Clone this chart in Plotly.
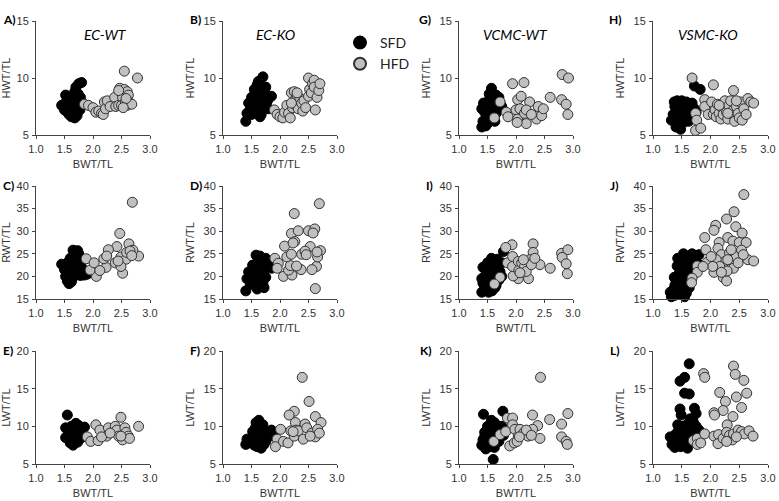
import plotly.graph_objects as go

# ---------------- data (BWT/TL, organ/TL) ----------------
A_SFD = [(1.45,7.6),(1.5,7.2),(1.52,8.5),(1.55,8.2),(1.55,7.0),(1.57,7.8),(1.58,6.8),(1.6,7.5),(1.6,8.0),(1.62,6.6),
         (1.63,7.2),(1.65,8.4),(1.65,6.9),(1.67,7.6),(1.68,8.8),(1.7,7.3),(1.7,9.2),(1.72,8.0),(1.72,6.7),(1.75,7.7),
         (1.75,9.5),(1.78,8.3),(1.8,9.6),(1.62,7.9),(1.58,7.4),(1.66,7.1),(1.74,8.6),(1.53,7.9),(1.68,6.5),(1.77,7.2)]
A_HFD = [(1.85,7.7),(1.92,7.6),(2.0,7.4),(2.05,7.0),(2.1,7.1),(2.15,6.9),(2.18,6.8),(2.2,7.9),(2.22,7.3),(2.25,8.0),
         (2.3,7.5),(2.38,8.3),(2.4,7.5),(2.45,7.6),(2.47,9.1),(2.5,8.7),(2.5,7.6),(2.52,8.3),(2.55,9.0),(2.55,10.6),
         (2.57,7.9),(2.6,8.8),(2.6,7.6),(2.62,8.5),(2.65,7.8),(2.68,7.7),(2.78,10.0),(2.45,8.9),(2.58,8.2),(2.53,7.4)]
B_SFD = [(1.4,6.2),(1.42,6.9),(1.45,7.8),(1.48,7.3),(1.5,8.3),(1.5,6.8),(1.52,7.6),(1.55,9.0),(1.55,8.0),(1.57,7.1),
         (1.6,8.6),(1.6,9.4),(1.62,7.5),(1.63,8.2),(1.65,6.6),(1.65,7.9),(1.68,8.8),(1.7,10.1),(1.7,7.2),(1.72,8.4),
         (1.75,9.2),(1.75,7.6),(1.78,8.0),(1.8,7.3),(1.85,8.4),(1.58,8.9),(1.67,6.8),(1.53,7.0),(1.62,9.7),(1.73,8.9)]
B_HFD = [(1.9,7.2),(1.95,6.8),(2.0,6.6),(2.05,6.5),(2.08,7.0),(2.12,7.6),(2.15,6.9),(2.18,6.5),(2.2,8.7),(2.22,7.4),
         (2.25,8.0),(2.25,8.8),(2.28,7.6),(2.3,8.5),(2.32,7.3),(2.35,8.2),(2.38,7.8),(2.4,7.1),(2.42,8.0),(2.45,7.4),
         (2.5,8.4),(2.5,10.0),(2.52,9.0),(2.55,8.7),(2.57,9.5),(2.6,9.8),(2.6,9.2),(2.62,7.2),(2.65,8.3),(2.68,8.9),
         (2.7,9.5),(2.2,7.8),(2.3,8.7)]
G_SFD = [(1.4,5.7),(1.42,6.2),(1.45,7.0),(1.45,7.6),(1.48,6.6),(1.5,7.9),(1.5,6.0),(1.52,7.3),(1.55,8.3),(1.55,6.8),
         (1.57,9.1),(1.58,7.6),(1.6,6.4),(1.6,8.0),(1.62,7.1),(1.65,8.5),(1.65,6.9),(1.68,7.4),(1.7,8.3),(1.72,7.8),
         (1.75,7.5),(1.4,7.3),(1.47,5.8),(1.53,8.6),(1.63,6.2),(1.58,7.0),(1.43,7.8),(1.67,8.0)]
G_HFD = [(1.94,9.5),(2.14,9.6),(2.81,10.3),(2.92,10.0),(2.6,8.3),(2.8,8.1),(2.88,7.7),(2.91,6.8),(1.72,7.9),(1.62,6.5),
         (1.83,7.0),(1.86,6.6),(2.0,7.2),(2.03,6.4),(2.03,8.1),(2.09,8.4),(2.07,7.3),(2.15,6.9),(2.18,6.0),(2.24,7.9),
         (2.36,6.4),(2.42,7.0),(2.45,6.7),(2.39,7.5),(2.18,7.2),(2.02,6.1),(2.27,6.8),(2.48,7.3)]
H_SFD = [(1.32,6.3),(1.35,6.8),(1.38,7.5),(1.4,5.7),(1.4,6.5),(1.42,8.0),(1.45,7.1),(1.45,6.0),(1.48,7.7),(1.5,6.6),
         (1.5,8.0),(1.52,7.2),(1.55,6.3),(1.55,7.8),(1.58,6.9),(1.6,7.5),(1.62,6.2),(1.65,7.1),(1.68,7.8),(1.7,6.6),
         (1.72,7.3),(1.75,7.0),(1.72,9.3),(1.82,9.0),(1.43,6.9),(1.48,5.5),(1.58,7.9),(1.37,7.9),(1.63,6.8),(1.53,6.1)]
H_HFD = [(1.68,10.0),(1.74,6.9),(1.76,6.3),(1.74,5.4),(1.83,5.6),(1.9,8.1),(1.9,7.5),(1.96,6.8),(2.02,7.9),(2.05,9.4),
         (2.05,6.8),(2.08,7.2),(2.1,6.6),(2.12,7.7),(2.15,6.9),(2.18,6.4),(2.2,7.4),(2.22,6.8),(2.25,8.0),(2.28,7.0),
         (2.3,6.4),(2.32,7.6),(2.35,8.0),(2.38,7.1),(2.4,8.9),(2.4,6.7),(2.42,6.2),(2.45,7.5),(2.48,6.9),(2.5,6.5),
         (2.52,7.9),(2.55,6.3),(2.58,7.3),(2.62,6.8),(2.65,8.2),(2.7,7.9),(2.75,7.8),(2.3,6.9),(2.15,7.6),(2.45,8.0)]
C_SFD = [(1.45,22.7),(1.5,21.5),(1.52,20.0),(1.55,23.0),(1.55,19.0),(1.57,22.0),(1.58,18.4),(1.6,24.0),(1.6,20.8),
         (1.62,22.5),(1.63,19.4),(1.65,25.8),(1.65,21.2),(1.68,23.5),(1.7,20.3),(1.7,22.8),(1.73,25.7),(1.73,21.6),
         (1.75,24.2),(1.78,20.2),(1.8,22.0),(1.85,20.3),(1.9,20.5),(1.6,23.3),(1.67,24.6),(1.57,21.2),(1.75,25.0),(1.62,18.8)]
C_HFD = [(2.69,36.4),(2.47,29.5),(2.42,26.6),(2.63,27.2),(2.27,25.9),(2.8,24.5),(2.7,25.8),(2.52,20.7),(2.23,22.0),
         (2.06,20.0),(1.95,21.4),(1.88,23.9),(2.02,23.0),(2.12,21.3),(2.19,23.9),(2.24,24.5),(2.39,23.0),(2.49,24.3),
         (2.58,23.8),(2.59,25.3),(2.65,25.6),(2.49,22.2),(2.44,23.4),(2.68,24.6)]
D_SFD = [(1.4,16.8),(1.42,19.5),(1.45,21.0),(1.48,18.2),(1.5,20.0),(1.52,22.5),(1.55,18.5),(1.55,21.5),(1.58,24.7),
         (1.6,17.2),(1.6,20.7),(1.62,23.0),(1.63,19.0),(1.65,22.0),(1.67,17.8),(1.68,20.2),(1.7,23.8),(1.7,18.5),
         (1.72,21.3),(1.75,19.8),(1.75,24.0),(1.8,22.5),(1.85,21.8),(1.58,22.8),(1.65,24.5),(1.72,17.5),(1.53,19.3),(1.78,23.0)]
D_HFD = [(2.69,36.1),(2.25,33.9),(2.2,29.5),(2.32,30.1),(2.5,30.1),(2.61,30.5),(2.58,29.6),(2.26,27.7),(2.08,26.7),
         (2.53,26.6),(2.62,17.3),(2.71,25.7),(2.64,22.2),(2.56,21.5),(2.37,21.5),(1.91,24.0),(1.97,22.9),(1.95,21.8),
         (2.06,20.0),(2.21,20.3),(2.15,21.4),(2.18,22.4),(2.29,22.3),(2.12,24.3),(2.2,24.9),(2.38,24.9),(2.44,25.6),
         (2.66,24.3),(2.65,25.4),(2.23,27.4),(2.46,24.8)]
I_SFD = [(1.4,16.5),(1.42,18.5),(1.42,22.0),(1.45,17.2),(1.45,20.0),(1.48,19.0),(1.48,21.5),(1.5,17.8),(1.5,23.0),
         (1.52,20.5),(1.55,18.2),(1.55,22.5),(1.57,24.0),(1.58,16.8),(1.6,19.5),(1.6,21.8),(1.62,23.5),(1.65,18.0),
         (1.65,20.8),(1.68,22.3),(1.7,19.2),(1.72,21.0),(1.75,23.0),(1.78,25.5),(1.75,20.0),(1.52,16.5),(1.63,17.5),
         (1.45,18.0),(1.67,23.8),(1.4,19.5)]
I_HFD = [(1.93,27.0),(1.82,26.4),(2.3,27.2),(2.3,25.3),(2.8,25.1),(2.91,25.9),(2.81,24.2),(2.88,22.8),(2.9,20.6),
         (2.6,21.8),(2.42,22.6),(2.22,19.5),(2.04,19.5),(1.95,20.1),(1.72,19.8),(1.62,18.3),(1.85,23.0),(1.94,24.4),
         (1.94,22.2),(2.04,23.3),(2.05,21.3),(2.1,23.0),(2.15,22.2),(2.18,21.1),(2.24,23.7),(2.27,22.6),(2.33,24.0),
         (2.07,20.8),(2.13,23.7)]
J_SFD = [(1.3,16.5),(1.32,15.5),(1.35,17.0),(1.38,18.0),(1.38,15.8),(1.4,19.0),(1.42,16.2),(1.42,22.3),(1.45,17.5),
         (1.45,20.5),(1.48,18.5),(1.48,21.5),(1.5,16.0),(1.5,19.5),(1.52,22.5),(1.53,25.0),(1.55,17.0),(1.55,20.0),
         (1.57,23.0),(1.6,18.0),(1.6,21.0),(1.62,24.0),(1.65,19.0),(1.65,22.0),(1.68,20.5),(1.7,23.5),(1.72,21.5),
         (1.75,24.5),(1.78,22.8),(1.8,24.8),(1.58,16.3),(1.43,24.0),(1.37,19.8),(1.52,18.2),(1.63,17.5),(1.47,23.5),
         (1.55,15.5),(1.68,25.0)]
J_HFD = [(2.58,38.1),(2.41,34.3),(2.28,32.7),(2.09,31.3),(2.06,30.2),(2.44,31.0),(2.55,29.6),(2.3,28.6),(1.9,28.6),
         (2.15,27.5),(2.39,27.8),(2.5,27.5),(2.62,27.5),(1.92,25.9),(2.65,23.7),(2.75,23.4),(1.94,23.1),(1.77,22.3),
         (1.77,20.9),(1.68,19.6),(1.67,18.6),(2.06,20.9),(2.22,19.8),(2.28,19.0),(2.4,21.8),(2.13,26.2),(2.19,24.8),
         (2.25,23.3),(2.33,25.2),(2.45,24.4),(2.54,25.8),(2.57,24.8),(2.1,23.7),(2.16,22.2),(2.3,23.7),(2.36,25.9),
         (2.48,23.0),(2.29,21.2),(2.19,20.9),(2.04,22.2),(2.01,24.4),(1.87,22.2)]
E_SFD = [(1.55,11.5),(1.52,9.8),(1.55,8.6),(1.57,9.5),(1.6,7.8),(1.6,9.0),(1.62,10.0),(1.63,8.3),(1.65,7.5),(1.65,9.3),
         (1.68,8.7),(1.7,10.4),(1.7,8.0),(1.72,9.6),(1.73,7.9),(1.75,9.0),(1.78,8.4),(1.8,9.8),(1.85,9.9),(1.58,8.2),
         (1.67,9.9),(1.75,10.1),(1.62,8.8),(1.52,8.5)]
E_HFD = [(2.49,11.2),(2.8,10.0),(2.05,10.2),(1.9,8.6),(1.96,8.0),(2.09,8.1),(2.12,9.5),(2.27,9.8),(2.24,8.7),(2.39,10.0),
         (2.42,9.5),(2.45,8.7),(2.52,8.2),(2.56,9.8),(2.58,9.2),(2.62,8.7),(2.64,8.4),(2.49,8.7),(2.15,8.6),(2.3,9.1)]
F_SFD = [(1.4,7.6),(1.42,8.3),(1.45,7.8),(1.5,8.0),(1.52,9.3),(1.55,8.5),(1.55,7.5),(1.57,9.8),(1.58,10.5),(1.6,8.8),
         (1.6,7.3),(1.62,9.5),(1.63,10.8),(1.65,8.2),(1.67,7.1),(1.68,9.0),(1.7,10.2),(1.7,8.5),(1.72,9.4),(1.75,8.0),
         (1.78,9.2),(1.82,8.7),(1.85,9.5),(1.88,9.0),(1.58,9.1),(1.65,10.0),(1.72,7.6),(1.53,8.7)]
F_HFD = [(2.39,16.5),(2.51,13.3),(2.25,12.0),(2.16,11.5),(2.62,11.3),(2.27,10.5),(2.44,10.3),(2.72,10.5),(2.01,9.6),
         (1.95,8.3),(1.92,7.3),(2.06,8.0),(2.14,7.8),(2.19,9.4),(2.25,8.7),(2.28,9.5),(2.32,9.4),(2.41,8.3),(2.47,9.8),
         (2.56,9.1),(2.62,8.6),(2.66,9.6),(2.69,9.1),(2.23,9.3),(2.53,8.7)]
K_SFD = [(1.43,11.6),(1.77,12.0),(1.6,5.6),(1.4,7.5),(1.42,8.2),(1.45,9.2),(1.47,7.0),(1.5,8.6),(1.5,10.0),(1.52,7.8),
         (1.55,9.5),(1.57,10.8),(1.57,8.3),(1.6,9.0),(1.62,7.2),(1.65,10.2),(1.65,8.6),(1.68,9.6),(1.7,8.0),(1.72,9.3),
         (1.75,10.0),(1.78,8.8),(1.55,7.3),(1.45,8.6),(1.62,10.5),(1.7,9.9)]
K_HFD = [(2.43,16.5),(2.91,11.7),(2.59,10.9),(2.29,11.5),(2.8,10.3),(2.38,10.1),(1.85,11.1),(1.94,11.1),(2.42,8.4),
         (2.8,8.6),(2.88,8.0),(2.9,7.6),(1.61,8.0),(1.72,8.9),(1.82,9.3),(1.89,7.4),(1.97,7.8),(1.94,10.2),(1.98,9.6),
         (2.04,8.7),(2.02,8.0),(2.07,9.6),(2.13,9.1),(2.21,8.7),(2.24,9.3),(2.29,9.6),(2.18,9.5),(2.06,8.6),(2.27,8.8)]
L_SFD = [(1.63,18.3),(1.55,16.5),(1.47,16.0),(1.55,14.4),(1.63,14.3),(1.47,12.3),(1.72,12.4),(1.75,11.7),(1.49,11.5),
         (1.3,8.6),(1.33,7.6),(1.35,8.2),(1.38,7.2),(1.4,9.0),(1.42,7.8),(1.45,8.5),(1.45,9.8),(1.48,7.3),(1.5,8.9),
         (1.52,10.0),(1.55,7.6),(1.55,9.3),(1.58,8.2),(1.6,10.3),(1.6,7.1),(1.62,9.0),(1.65,8.0),(1.67,9.6),(1.7,10.6),
         (1.7,8.5),(1.72,9.2),(1.75,10.0),(1.77,8.8),(1.8,9.5),(1.58,9.8),(1.65,11.0),(1.5,8.0),(1.43,10.2)]
L_HFD = [(1.88,17.0),(1.9,16.5),(2.4,18.0),(2.43,16.9),(2.58,16.1),(2.16,14.5),(2.45,13.9),(2.63,14.4),(2.26,13.3),
         (2.22,12.1),(2.06,11.8),(2.07,11.5),(2.54,12.5),(2.39,11.3),(2.29,10.2),(1.7,8.1),(1.77,8.4),(1.77,7.6),
         (1.83,7.8),(1.9,9.0),(2.06,8.7),(2.14,8.9),(2.13,7.7),(2.22,8.4),(2.28,9.2),(2.33,8.8),(2.38,8.2),(2.4,9.0),
         (2.48,9.5),(2.54,9.3),(2.59,9.0),(2.67,9.4),(2.74,8.7),(2.28,8.0),(2.45,8.6)]

panel_labels = ["A)", "B)", "G)", "H)", "C)", "D)", "I)", "J)", "E)", "F)", "K)", "L)"]
column_titles = ["EC-WT", "EC-KO", "VCMC-WT", "VSMC-KO"]
row_y_titles = ["HWT/TL", "RWT/TL", "LWT/TL"]
row_y_ranges = [(5, 15), (15, 40), (5, 20)]
row_y_ticks = [[5, 10, 15], [15, 20, 25, 30, 35, 40], [5, 10, 15, 20]]
x_ticks = [1.0, 1.5, 2.0, 2.5, 3.0]
x_tick_text = ["1.0", "1.5", "2.0", "2.5", "3.0"]
x_title = "BWT/TL"
group_names = ["SFD", "HFD"]

panels = [(A_SFD, A_HFD), (B_SFD, B_HFD), (G_SFD, G_HFD), (H_SFD, H_HFD),
          (C_SFD, C_HFD), (D_SFD, D_HFD), (I_SFD, I_HFD), (J_SFD, J_HFD),
          (E_SFD, E_HFD), (F_SFD, F_HFD), (K_SFD, K_HFD), (L_SFD, L_HFD)]

# ---------------- layout geometry (pixels) ----------------
W, H = 779, 501
col_px = [(36, 150), (223, 337), (459, 573), (653, 768)]
row_px = [(21, 135), (186, 299), (351, 464)]
label_left_px = [1, 188, 417, 607, 1, 188, 424, 608, 1, 188, 418, 608]
title_center_px = [105, 275, 515, 708]

fill_cols = ["#000000", "#c0c0c0"]
line_cols = ["#000000", "#303030"]
FONT = "Liberation Sans Narrow, Arial Narrow, Liberation Sans, sans-serif"
CAL = "Lato, Calibri, sans-serif"

fig = go.Figure()
layout = dict(
    width=W, height=H, margin=dict(l=0, r=0, t=0, b=0, autoexpand=False),
    plot_bgcolor="white", paper_bgcolor="white",
    font=dict(family=FONT, size=11, color="#333333"),
    legend=dict(x=340 / W, y=1 - 27 / H, xanchor="left", yanchor="top",
                font=dict(family=CAL, size=14, color="#222222"),
                bgcolor="rgba(0,0,0,0)", tracegroupgap=0, itemsizing="constant"),
)
annotations = []

for i, (sfd, hfd) in enumerate(panels):
    r, c = divmod(i, 4)
    k = i + 1
    xa = "x" if k == 1 else f"x{k}"
    ya = "y" if k == 1 else f"y{k}"
    for g, pts in enumerate((sfd, hfd)):
        fig.add_trace(go.Scatter(
            x=[p[0] for p in pts], y=[p[1] for p in pts], mode="markers",
            name=group_names[g], legendgroup=group_names[g], showlegend=(i == 1),
            xaxis=xa, yaxis=ya, cliponaxis=False,
            marker=dict(size=10, color=fill_cols[g], line=dict(color=line_cols[g], width=1)),
        ))
    x0, x1 = col_px[c]
    y0, y1 = row_px[r]
    axcommon = dict(showgrid=False, zeroline=False, showline=True, linecolor="#444444", linewidth=1,
                    ticks="outside", ticklen=3, tickwidth=1, tickcolor="#444444", automargin=False,
                    tickfont=dict(family=FONT, size=11, color="#333333"))
    layout["xaxis" if k == 1 else f"xaxis{k}"] = dict(
        domain=[x0 / W, x1 / W], anchor=ya, range=[1, 3], tickvals=x_ticks, ticktext=x_tick_text,
        ticklabelstandoff=1,
        title=dict(text=x_title, font=dict(family=FONT, size=11, color="#333333"), standoff=6),
        **axcommon)
    layout["yaxis" if k == 1 else f"yaxis{k}"] = dict(
        domain=[1 - y1 / H, 1 - y0 / H], anchor=xa, range=list(row_y_ranges[r]), tickvals=row_y_ticks[r],
        ticklabelstandoff=1,
        title=dict(text=row_y_titles[r], font=dict(family=FONT, size=11, color="#333333"), standoff=6),
        **axcommon)
    annotations.append(dict(
        text=f"<b>{panel_labels[i]}</b>", xref="paper", yref="paper",
        x=label_left_px[i] / W, y=1 - (y0 - 1) / H, xanchor="left", yanchor="middle",
        showarrow=False, font=dict(family=CAL, size=12, color="#000000")))
    if r == 0:
        annotations.append(dict(
            text=f"<i>{column_titles[c]}</i>", xref="paper", yref="paper",
            x=title_center_px[c] / W, y=1 - 34 / H, xanchor="center", yanchor="middle",
            showarrow=False, font=dict(family=CAL, size=14, color="#000000")))

layout["annotations"] = annotations
fig.update_layout(**layout)
fig.write_html("out.html", config={"displayModeBar": False},
               post_script="document.body.style.margin='0';")
